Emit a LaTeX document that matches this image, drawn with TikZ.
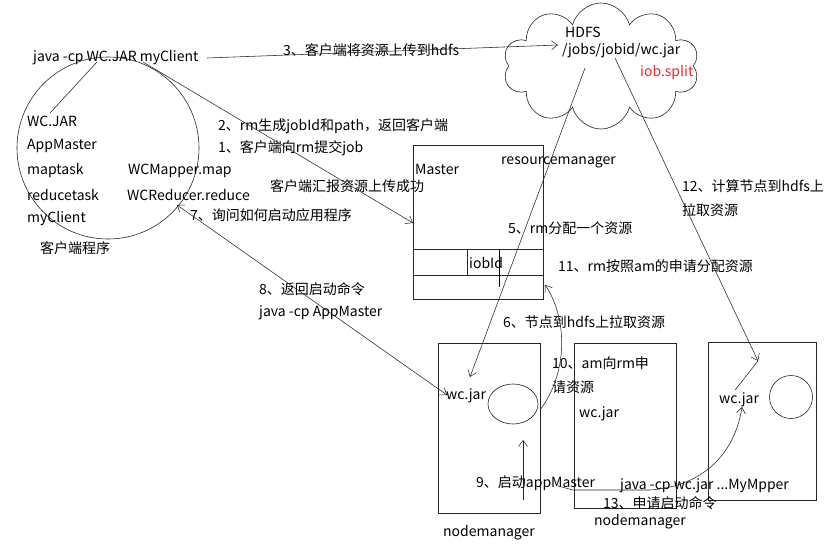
\documentclass[tikz,border=0pt]{standalone}
\usepackage{fontspec}
\setmainfont{Noto Sans CJK SC}
\usetikzlibrary{arrows.meta,shapes.symbols,shapes.geometric}
\definecolor{splitred}{RGB}{235,40,45}
\begin{document}
\begin{tikzpicture}[x=1pt,y=-1pt,
  lbl/.style={anchor=west,inner sep=0pt,font=\fontsize{14}{16}\selectfont},
  ln/.style={draw=black!85,line width=0.55pt},
  tip/.style={-{Straight Barb[length=6pt,width=9pt]}},
  boxed/.style={draw=black!85,line width=0.7pt,anchor=north west,inner sep=0pt},
]
\useasboundingbox[fill=white] (0,0) rectangle (830,544);

% client circle
\node[circle,draw=black!85,line width=0.6pt,minimum size=182pt,inner sep=0pt] (client) at (108,148) {};
% cloud
\node[cloud,draw=black!85,line width=0.6pt,cloud puffs=10,cloud ignores aspect,minimum width=196pt,minimum height=126pt] (hdfs) at (601,66) {};

% boxes
\node[boxed,minimum width=130pt,minimum height=154pt] (rm) at (413,145) {};
\node[boxed,minimum width=102pt,minimum height=170pt] (nm1) at (438,343) {};
\node[boxed,minimum width=102pt,minimum height=165pt] (nm2) at (574,343) {};
\node[boxed,minimum width=108pt,minimum height=158pt] (nm3) at (708,342) {};
\node[ellipse,draw=black!85,line width=0.6pt,minimum width=50pt,minimum height=40pt,inner sep=0pt] (am) at (513,404) {};
\node[circle,draw=black!85,line width=0.6pt,minimum size=43pt,inner sep=0pt] (task) at (791,397) {};

% master inner lines
\draw[ln] (413,249) -- (543,249);
\draw[ln] (413,275) -- (543,275);
\draw[ln] (467,249) -- (467,275);
\draw[black,line width=0.7pt] (499,249) -- (499,287);

% texts
\node[lbl] (cmd) at (33,58) {java -cp WC.JAR myClient};
\node[lbl] (wcjar) at (27,121) {WC.JAR};
\node[lbl] (appm) at (27,146) {AppMaster};
\node[lbl] (mapt) at (27,171) {maptask};
\node[lbl] (redt) at (27,195) {reducetask};
\node[lbl] (myc) at (27,219) {myClient};
\node[lbl] (wcm) at (128,171) {WCMapper.map};
\node[lbl] (wcr) at (127,195) {WCReducer.reduce};
\node[lbl] (cprog) at (40,248) {客户端程序};

\node[lbl] (t3) at (283,50) {3、客户端将资源上传到hdfs};
\node[lbl] (t2) at (218,126) {2、rm生成jobId和path，返回客户端};
\node[lbl] (t1) at (218,148) {1、客户端向rm提交job};
\node[lbl] (tok) at (270,186) {客户端汇报资源上传成功};
\node[lbl] (t7) at (190,215) {7、询问如何启动应用程序};
\node[lbl] (t8) at (259,289) {8、返回启动命令};
\node[lbl] (t8b) at (259,313) {java -cp AppMaster};

\node[lbl] (hd1) at (565,32) {HDFS};
\node[lbl] (hd2) at (562,51) {/jobs/jobid/wc.jar};
\node[lbl,text=splitred] (hd3) at (640,73) {iob.split};

\node[lbl] (mst) at (415,169) {Master};
\node[lbl] (rmt) at (501,162) {resourcemanager};
\node[lbl] (jid) at (469,263) {iobId};
\node[lbl] (t5) at (508,228) {5、rm分配一个资源};
\node[lbl] (t11) at (558,266) {11、rm按照am的申请分配资源};
\node[lbl] (t12) at (682,186) {12、计算节点到hdfs上};
\node[lbl] (t12b) at (682,210) {拉取资源};
\node[lbl] (t6) at (503,322) {6、节点到hdfs上拉取资源};
\node[lbl] (t10) at (552,363) {10、am向rm申};
\node[lbl] (t10b) at (552,387) {请资源};

\node[lbl] (w1) at (446,396) {wc.jar};
\node[lbl] (w2) at (579,414) {wc.jar};
\node[lbl] (w3) at (719,400) {wc.jar};
\node[lbl] (t9) at (476,483) {9、启动appMaster};
\node[lbl] (t13c) at (620,486) {java -cp wc.jar ...MyMpper};
\node[lbl] (t13) at (603,503) {13、申请启动命令};
\node[lbl] (nml1) at (443,533) {nodemanager};
\node[lbl] (nml2) at (594,522) {nodemanager};

% connectors
\coordinate (c3a) at (207,58);
\coordinate (c3b) at (558,45);
\draw[ln,tip] (c3a) -- (c3b);
\coordinate (cj1) at (50,113);
\coordinate (cj2) at (97,62);
\draw[ln] (cj1) -- (cj2);
\coordinate (c1a) at (143,62);
\coordinate (c1b) at (413,223);
\draw[ln,tip] (c1a) -- (c1b);
\coordinate (c7a) at (177,205);
\coordinate (c7b) at (447,395);
\draw[ln,{Straight Barb[length=6pt,width=9pt]}-{Straight Barb[length=6pt,width=9pt]}] (c7a) -- (c7b);
\coordinate (c5a) at (585,68);
\coordinate (c5b) at (470,377);
\draw[ln,tip] (c5a) -- (c5b);
\coordinate (c6a) at (540,410);
\coordinate (c6b) at (545,285);
\draw[ln,tip] (c6a) .. controls (570,370) and (566,315) .. (c6b);
\coordinate (c9a) at (523,500);
\coordinate (c9b) at (523,440);
\draw[ln,tip] (c9a) -- (c9b);
\coordinate (c12a) at (615,58);
\coordinate (c12b) at (758,361);
\coordinate (c12c) at (735,390);
\draw[ln,tip] (c12a) -- (c12b);
\draw[ln] (c12b) -- (c12c);
\coordinate (c13a) at (558,486);
\coordinate (c13b) at (742,407);
\draw[ln,tip] (c13a) -- (573,490) -- (650,490) .. controls (705,486) and (735,452) .. (c13b);
\end{tikzpicture}
\end{document}
